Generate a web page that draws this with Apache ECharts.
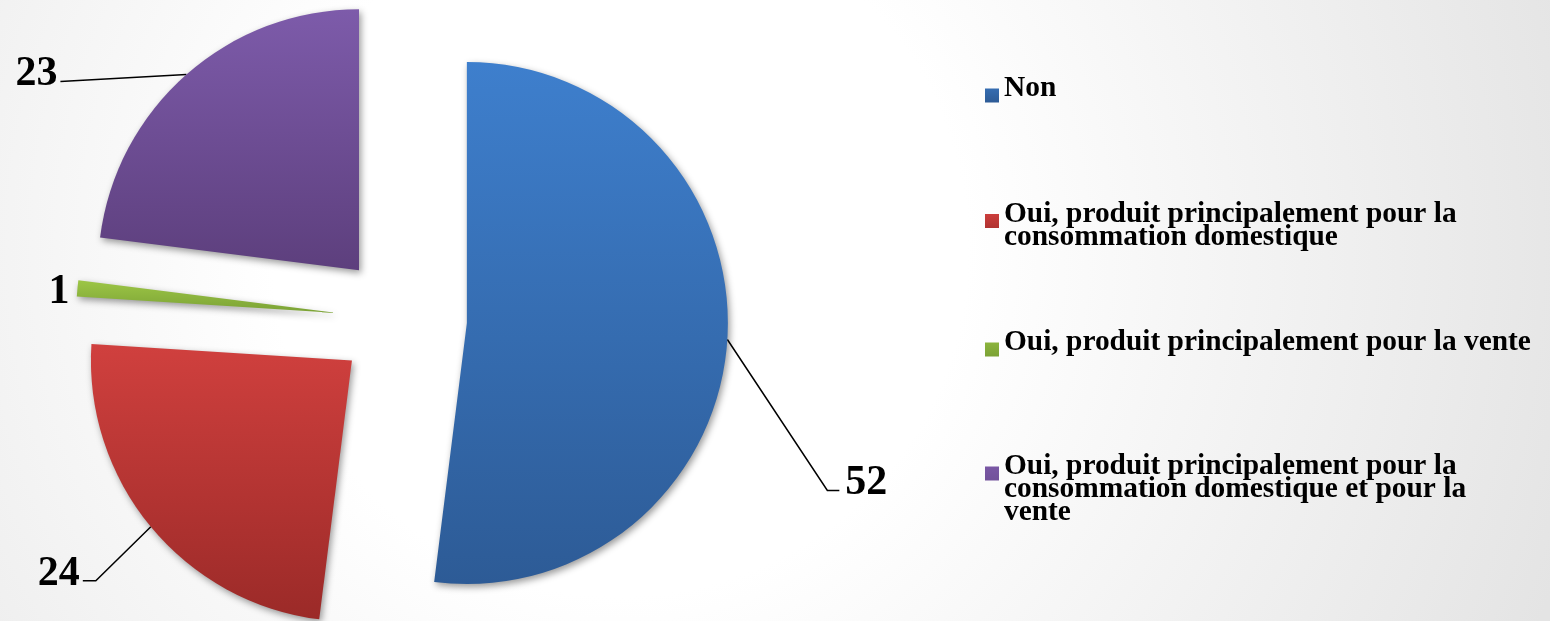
<!DOCTYPE html>
<html>
<head>
<meta charset="utf-8">
<script src="https://cdn.jsdelivr.net/npm/echarts@6/dist/echarts.min.js"></script>
<style>
  html, body { margin: 0; padding: 0; }
  #chart { width: 1550px; height: 621px; }
</style>
</head>
<body>
<div id="chart"></div>
<script>
// ---- data ----
const categories = [
  'Non',
  'Oui, produit principalement pour la consommation domestique',
  'Oui, produit principalement pour la vente',
  'Oui, produit principalement pour la consommation domestique et pour la vente'
];
const values = [52, 24, 1, 23];
const topColors = ['#3E7FCD', '#D0403E', '#9DC646', '#7D5BAA'];
const bottomColors = ['#2D5B96', '#9B2A28', '#7BA235', '#5D3F7D'];

// ---- layout / style constants ----
const CENTER = [402, 319];
const RADIUS = 261;
const EXPLODE = 65;
const FONT = "'Liberation Serif', 'Times New Roman', serif";

// label guide shapes (relative offsets from the slice's label anchor)
const guideStyle = [
  { mid: [100, 151], end: [12, 0], align: 'left', dx: 6 },
  { mid: [-55, 54], end: [-13, 0], align: 'right', dx: -3 },
  { none: true, dx: -8, dy: 4, align: 'right' },
  { mid: [-126, 7], end: [0, 0], align: 'right', dx: -3 }
];

const chart = echarts.init(document.getElementById('chart'), null, { renderer: 'canvas' });

const gradient = i => new echarts.graphic.LinearGradient(0, 0, 0, 1, [
  { offset: 0, color: topColors[i] },
  { offset: 1, color: bottomColors[i] }
]);

const pieData = categories.map((name, i) => ({
  name: name, value: values[i], selected: true,
  itemStyle: { color: gradient(i) }
}));
const labelData = categories.map((name, i) => ({ name: name, value: values[i] }));

// legend: one component per entry so each sits in its own slot
// icon path boxes keep the square aligned with the first text line
const legendIcons = [
  'path://M0,0M0,14L14,14L14,28L0,28Z',
  'path://M0,0M0,28M0,2.5L14,2.5L14,16.5L0,16.5Z',
  'path://M0,0M0,14L14,14L14,28L0,28Z',
  'path://M0,0M0,60M0,7L14,7L14,21L0,21Z'
];
const legendIconH = [28, 28, 28, 60];
const legendTops = [74, 199.5, 328, 452];

const legends = categories.map((name, i) => ({
  data: [name],
  orient: 'vertical',
  left: 985,
  top: legendTops[i],
  padding: 0,
  itemWidth: 14,
  itemHeight: legendIconH[i],
  icon: legendIcons[i],
  selectedMode: false,
  textStyle: {
    fontFamily: FONT,
    fontWeight: 'bold',
    fontSize: 29.4,
    lineHeight: 23,
    color: '#000',
    width: 532,
    overflow: 'break'
  }
}));

const option = {
  animation: false,
  backgroundColor: {
    type: 'radial', x: 0.4, y: 0.4, r: 1.6,
    colorStops: [
      { offset: 0, color: '#ffffff' },
      { offset: 0.35, color: '#ffffff' },
      { offset: 1, color: '#e4e4e4' }
    ]
  },
  legend: legends,
  series: [{
    // visible exploded pie
    type: 'pie',
    center: CENTER,
    radius: RADIUS,
    startAngle: 90,
    clockwise: true,
    selectedMode: 'multiple',
    selectedOffset: EXPLODE,
    emphasis: { disabled: true },
    itemStyle: {
      shadowBlur: 7, shadowColor: 'rgba(0,0,0,0.4)', shadowOffsetX: 2, shadowOffsetY: 3
    },
    select: { itemStyle: { shadowBlur: 7, shadowColor: 'rgba(0,0,0,0.4)', shadowOffsetX: 2, shadowOffsetY: 3 } },
    label: { show: false },
    labelLine: { show: false },
    data: pieData
  }, {
    // label carrier (transparent, same geometry)
    type: 'pie',
    center: CENTER,
    radius: RADIUS,
    startAngle: 90,
    clockwise: true,
    silent: true,
    legendHoverLink: false,
    selectedMode: false,
    avoidLabelOverlap: false,
    emphasis: { disabled: true },
    itemStyle: { color: 'rgba(0,0,0,0)' },
    label: {
      show: true,
      position: 'outside',
      formatter: '{c}',
      fontFamily: FONT,
      fontWeight: 'bold',
      fontSize: 42,
      color: '#000'
    },
    labelLine: {
      show: true, length: 20, length2: 10,
      lineStyle: { color: '#000', width: 1.5 }
    },
    labelLayout: function (p) {
      const g = guideStyle[p.dataIndex];
      const pts = p.labelLinePoints;
      if (!pts) return {};
      const a = pts[0];
      const vx = a[0] - CENTER[0], vy = a[1] - CENTER[1];
      const len = Math.sqrt(vx * vx + vy * vy) || 1;
      const s = [a[0] + EXPLODE * vx / len, a[1] + EXPLODE * vy / len];
      if (g.none) {
        return {
          x: s[0] + g.dx, y: s[1] + g.dy,
          align: g.align, verticalAlign: 'middle',
          labelLinePoints: [s.slice(), s.slice(), s.slice()]
        };
      }
      const m = [s[0] + g.mid[0], s[1] + g.mid[1]];
      const e = [m[0] + g.end[0], m[1] + g.end[1]];
      return {
        x: e[0] + g.dx, y: e[1] - 7,
        align: g.align, verticalAlign: 'middle',
        labelLinePoints: [s, m, e]
      };
    },
    data: labelData
  }]
};

chart.setOption(option);
</script>
</body>
</html>
